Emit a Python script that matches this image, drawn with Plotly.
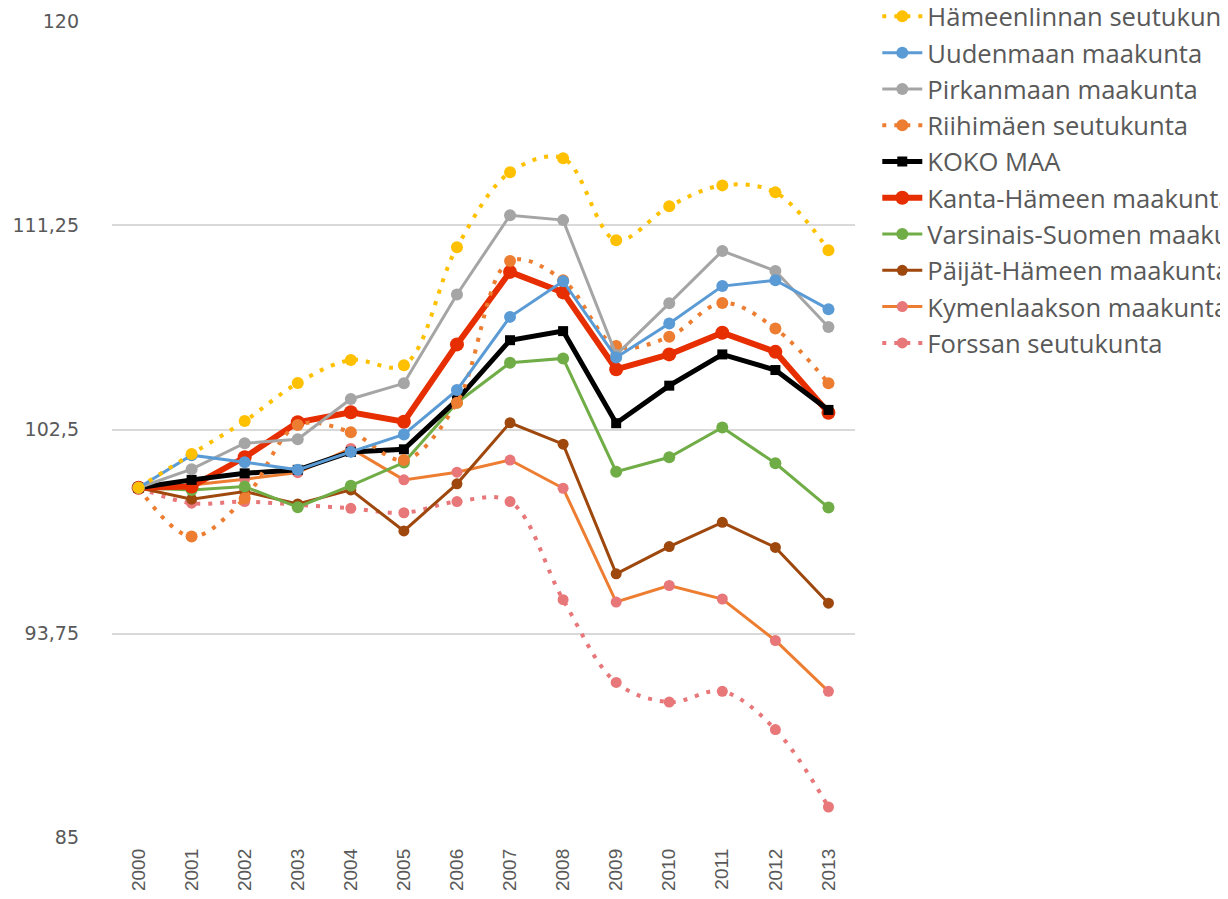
import plotly.graph_objects as go

years = [str(y) for y in range(2000, 2014)]

hameenlinna = [100, 101.45, 102.86, 104.49, 105.48, 105.26, 110.32, 113.53, 114.13, 110.62, 112.07, 112.97, 112.67, 110.19]
uusimaa = [100, 101.40, 101.10, 100.77, 101.54, 102.29, 104.19, 107.33, 108.86, 105.59, 107.05, 108.65, 108.90, 107.66]
pirkanmaa = [100, 100.80, 101.91, 102.08, 103.81, 104.48, 108.29, 111.69, 111.48, 105.70, 107.91, 110.16, 109.30, 106.90]
riihimaki = [100, 97.91, 99.55, 102.69, 102.38, 101.19, 103.65, 109.73, 108.90, 106.08, 106.48, 107.93, 106.83, 104.48]
koko_maa = [100, 100.34, 100.62, 100.77, 101.54, 101.65, 103.76, 106.33, 106.72, 102.77, 104.38, 105.72, 105.05, 103.34]
kanta_hame = [100, 100.05, 101.31, 102.81, 103.24, 102.83, 106.15, 109.26, 108.38, 105.08, 105.72, 106.65, 105.83, 103.22]
varsinais_suomi = [100, 99.91, 100.05, 99.17, 100.09, 101.08, 103.65, 105.36, 105.55, 100.69, 101.31, 102.59, 101.05, 99.15]
paijat_hame = [100, 99.51, 99.84, 99.31, 99.91, 98.15, 100.17, 102.79, 101.87, 96.31, 97.48, 98.52, 97.44, 95.05]
kymenlaakso = [100, 100.12, 100.37, 100.65, 101.69, 100.34, 100.67, 101.19, 99.98, 95.10, 95.81, 95.23, 93.45, 91.27]
forssa = [100, 99.34, 99.41, 99.27, 99.12, 98.93, 99.41, 99.41, 95.20, 91.65, 90.81, 91.27, 89.63, 86.31]

y_ticks = [85, 93.75, 102.5, 111.25, 120]
y_tick_text = ["85", "93,75", "102,5", "111,25", "120"]

DOT = "4px,8px"

# (name, values, line colour, marker colour, line width, dash, smooth, marker symbol, marker size)
series = [
    ("Hämeenlinnan seutukunta", hameenlinna, "#FFC000", "#FFC000", 4, DOT, True, "circle", 12),
    ("Uudenmaan maakunta", uusimaa, "#5B9BD5", "#5B9BD5", 3, "solid", False, "circle", 12),
    ("Pirkanmaan maakunta", pirkanmaa, "#A5A5A5", "#A5A5A5", 3, "solid", False, "circle", 12),
    ("Riihimäen seutukunta", riihimaki, "#ED7D31", "#ED7D31", 4, DOT, True, "circle", 12),
    ("KOKO MAA", koko_maa, "#000000", "#000000", 5, "solid", False, "square", 10),
    ("Kanta-Hämeen maakunta", kanta_hame, "#E62E00", "#E62E00", 6, "solid", False, "circle", 14),
    ("Varsinais-Suomen maakunta", varsinais_suomi, "#70AD47", "#70AD47", 3, "solid", False, "circle", 12),
    ("Päijät-Hämeen maakunta", paijat_hame, "#9E480E", "#9E480E", 3, "solid", False, "circle", 11),
    ("Kymenlaakson maakunta", kymenlaakso, "#ED7D31", "#E8777A", 3, "solid", False, "circle", 11),
    ("Forssan seutukunta", forssa, "#E8777A", "#E8777A", 4, DOT, True, "circle", 11),
]

fig = go.Figure()
# Excel draws later series on top; first legend entry ends up topmost
for name, vals, lc, mc, lw, dash, smooth, sym, ms in reversed(series):
    fig.add_trace(go.Scatter(
        x=years, y=vals, name=name, mode="lines+markers", legendgroup=name,
        line=dict(color=lc, width=lw, dash=dash, shape="spline" if smooth else "linear", smoothing=1),
        marker=dict(color=mc, symbol=sym, size=ms),
    ))

# page body adds an 8px offset, margins compensate for it
fig.update_layout(
    width=1228, height=899,
    margin=dict(l=104, r=381, t=13, b=69, autoexpand=False),
    plot_bgcolor="white", paper_bgcolor="white",
    font=dict(family="Open Sans", color="#595959"),
    legend=dict(
        x=1.03, y=1.034, xanchor="left", yanchor="top",
        traceorder="reversed", tracegroupgap=3,
        font=dict(size=25.6, color="#595959", family="Open Sans"),
        itemwidth=40, bgcolor="rgba(0,0,0,0)",
    ),
    showlegend=True,
)
fig.update_xaxes(
    type="category", range=[-0.5, 13.5], tickangle=-90,
    showgrid=False, showline=False, zeroline=False,
    tickfont=dict(size=19, family="Liberation Sans", color="#595959"),
    ticks="", ticklabelstandoff=6,
)
fig.update_yaxes(
    range=[84.98, 120.02], tickvals=y_ticks, ticktext=y_tick_text,
    showgrid=True, gridcolor="#D9D9D9", gridwidth=2,
    zeroline=False, showline=False,
    tickfont=dict(size=19, family="DejaVu Sans", color="#595959"),
    ticks="", ticklabelstandoff=32,
)

fig.write_html("out.html")
